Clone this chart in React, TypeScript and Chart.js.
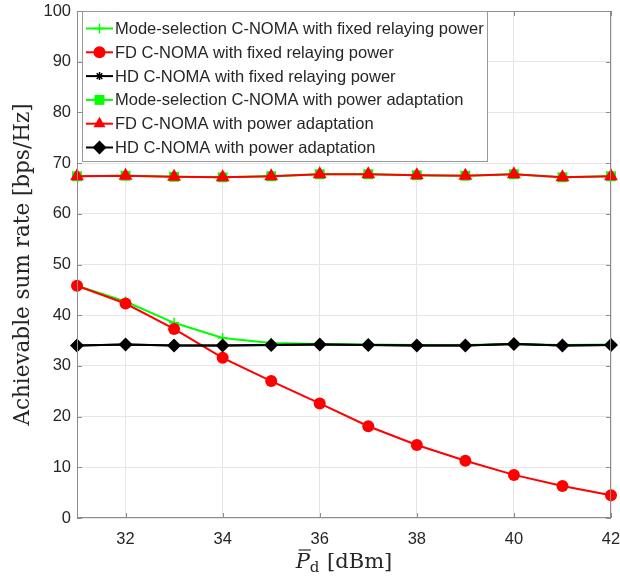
import React, { useEffect, useRef } from "react";
import { Chart, registerables } from "chart.js";

Chart.register(...registerables);

// ---- data ----
const xValues = [31, 32, 33, 34, 35, 36, 37, 38, 39, 40, 41, 42];
const msFixed = [45.8, 42.7, 38.5, 35.5, 34.5, 34.3, 34.2, 34.1, 34.1, 34.3, 34.1, 34.2];
const fdFixed = [45.8, 42.3, 37.3, 31.6, 27.0, 22.6, 18.1, 14.4, 11.3, 8.5, 6.3, 4.5];
const hdFixed = [34.0, 34.2, 34.0, 34.0, 34.1, 34.2, 34.1, 34.0, 34.0, 34.3, 34.0, 34.1];
const msAdapt = [67.4, 67.5, 67.3, 67.2, 67.4, 67.8, 67.8, 67.6, 67.5, 67.8, 67.2, 67.4];
const fdAdapt = [67.4, 67.5, 67.3, 67.2, 67.4, 67.8, 67.8, 67.6, 67.5, 67.8, 67.2, 67.4];
const hdAdapt = [34.0, 34.2, 34.0, 34.0, 34.1, 34.2, 34.1, 34.0, 34.0, 34.3, 34.0, 34.1];
const xTicks = [32, 34, 36, 38, 40, 42];
const yTicks = [0, 10, 20, 30, 40, 50, 60, 70, 80, 90, 100];
const seriesLabels = [
  "Mode-selection C-NOMA with fixed relaying power",
  "FD C-NOMA with fixed relaying power",
  "HD C-NOMA with fixed relaying power",
  "Mode-selection C-NOMA with power adaptation",
  "FD C-NOMA with power adaptation",
  "HD C-NOMA with power adaptation",
];
const yTitle = "Achievable sum rate [bps/Hz]";

const GREEN = "#00ff00";
const RED = "#ff0000";
const BLACK = "#000000";
const TEXT = "#262626";
const AXIS = "#8c8c8c";
const GRID = "#e6e6e6";

type Style = { color: string; shape: string; radius: number; lineW: number };
const styles: Style[] = [
  { color: GREEN, shape: "cross", radius: 5, lineW: 2 },
  { color: RED, shape: "circle", radius: 6, lineW: 2 },
  { color: BLACK, shape: "star", radius: 4, lineW: 2 },
  { color: GREEN, shape: "rect", radius: 7, lineW: 2 },
  { color: RED, shape: "triangle", radius: 8, lineW: 2 },
  { color: BLACK, shape: "rectRot", radius: 7, lineW: 2 },
];
const seriesData = [msFixed, fdFixed, hdFixed, msAdapt, fdAdapt, hdAdapt];

function drawMarker(ctx: CanvasRenderingContext2D, shape: string, x: number, y: number, r: number, color: string) {
  ctx.save();
  ctx.fillStyle = color;
  ctx.strokeStyle = color;
  ctx.lineWidth = 1.5;
  ctx.beginPath();
  if (shape === "circle") {
    ctx.arc(x, y, r, 0, Math.PI * 2);
    ctx.fill();
  } else if (shape === "cross") {
    ctx.moveTo(x - r, y); ctx.lineTo(x + r, y);
    ctx.moveTo(x, y - r); ctx.lineTo(x, y + r);
    ctx.stroke();
  } else if (shape === "star") {
    ctx.moveTo(x - r, y); ctx.lineTo(x + r, y);
    ctx.moveTo(x, y - r); ctx.lineTo(x, y + r);
    const d = r * Math.SQRT1_2;
    ctx.moveTo(x - d, y - d); ctx.lineTo(x + d, y + d);
    ctx.moveTo(x - d, y + d); ctx.lineTo(x + d, y - d);
    ctx.stroke();
  } else if (shape === "rect") {
    const s = r * Math.SQRT1_2;
    ctx.rect(x - s, y - s, 2 * s, 2 * s);
    ctx.fill();
  } else if (shape === "triangle") {
    ctx.moveTo(x, y - r);
    ctx.lineTo(x + r * Math.sin((2 * Math.PI) / 3), y - r * Math.cos((2 * Math.PI) / 3));
    ctx.lineTo(x + r * Math.sin((4 * Math.PI) / 3), y - r * Math.cos((4 * Math.PI) / 3));
    ctx.closePath();
    ctx.fill();
  } else if (shape === "rectRot") {
    ctx.moveTo(x, y - r); ctx.lineTo(x + r, y); ctx.lineTo(x, y + r); ctx.lineTo(x - r, y);
    ctx.closePath();
    ctx.fill();
  }
  ctx.restore();
}

const framePlugin = {
  id: "matlabFrame",
  afterDraw(chart: any) {
    const ctx: CanvasRenderingContext2D = chart.ctx;
    const { left, right, top, bottom } = chart.chartArea;
    const xs = chart.scales.x;
    const ys = chart.scales.y;
    ctx.save();
    // box
    ctx.strokeStyle = AXIS;
    ctx.lineWidth = 1;
    ctx.strokeRect(left + 0.5, top + 0.5, right - left - 1, bottom - top - 1);
    // inward ticks
    ctx.beginPath();
    const tl = 5;
    for (const v of yTicks) {
      const y = Math.round(ys.getPixelForValue(v)) + 0.5;
      ctx.moveTo(left, y); ctx.lineTo(left + tl, y);
      ctx.moveTo(right, y); ctx.lineTo(right - tl, y);
    }
    for (const v of xTicks) {
      const x = Math.round(xs.getPixelForValue(v)) + 0.5;
      ctx.moveTo(x, bottom); ctx.lineTo(x, bottom - tl);
      ctx.moveTo(x, top); ctx.lineTo(x, top + tl);
    }
    ctx.stroke();

    // legend
    const lx = 82, ly = top, lw = 405, lh = 150;
    ctx.fillStyle = "#ffffff";
    ctx.fillRect(lx, ly, lw, lh);
    ctx.strokeStyle = "#999999";
    ctx.strokeRect(lx + 0.5, ly + 0.5, lw, lh);
    ctx.font = '16.5px "Liberation Sans", Arial, sans-serif';
    ctx.textBaseline = "middle";
    ctx.textAlign = "left";
    for (let i = 0; i < seriesLabels.length; i++) {
      const cy = 28.5 + i * 23.8;
      const st = styles[i];
      ctx.strokeStyle = st.color;
      ctx.lineWidth = st.lineW;
      ctx.beginPath();
      ctx.moveTo(86, cy); ctx.lineTo(113, cy);
      ctx.stroke();
      drawMarker(ctx, st.shape, 99.5, cy, st.shape === "triangle" ? 7 : st.radius, st.color);
      ctx.fillStyle = TEXT;
      ctx.fillText(seriesLabels[i], 115, cy + 1);
    }

    // y title
    ctx.save();
    ctx.translate(23, (top + bottom) / 2);
    ctx.rotate(-Math.PI / 2);
    ctx.font = '21.5px "DejaVu Serif", serif';
    ctx.fillStyle = TEXT;
    ctx.textAlign = "center";
    ctx.textBaseline = "middle";
    ctx.fillText(yTitle, 0, 0);
    ctx.restore();

    // x title: P̄d [dBm]
    const cx = (left + right) / 2;
    const base = 568;
    ctx.fillStyle = TEXT;
    ctx.textBaseline = "alphabetic";
    ctx.textAlign = "left";
    const fP = 'italic 21px "DejaVu Serif", serif';
    const fSub = '15px "DejaVu Serif", serif';
    const fRest = '21px "DejaVu Serif", serif';
    ctx.font = fP; const wP = ctx.measureText("P").width;
    ctx.font = fSub; const wD = ctx.measureText("d").width;
    ctx.font = fRest; const wR = ctx.measureText(" [dBm]").width;
    const total = wP + wD + 1 + wR;
    let x0 = cx - total / 2;
    ctx.font = fP; ctx.fillText("P", x0, base);
    ctx.strokeStyle = TEXT; ctx.lineWidth = 1.2;
    ctx.beginPath(); ctx.moveTo(x0 + 3, base - 18); ctx.lineTo(x0 + wP + 1, base - 18); ctx.stroke();
    x0 += wP;
    ctx.font = fSub; ctx.fillText("d", x0, base + 4);
    x0 += wD + 1;
    ctx.font = fRest; ctx.fillText(" [dBm]", x0, base);
    ctx.restore();
  },
};

export default function App() {
  const ref = useRef<HTMLCanvasElement | null>(null);
  useEffect(() => {
    document.body.style.margin = "0";
    const canvas = ref.current!;
    const n = seriesLabels.length;
    const chart = new Chart(canvas, {
      type: "line",
      data: {
        datasets: seriesData.map((vals, i) => ({
          label: seriesLabels[i],
          data: xValues.map((x, j) => ({ x, y: vals[j] })),
          borderColor: styles[i].color,
          backgroundColor: styles[i].color,
          borderWidth: styles[i].lineW,
          pointStyle: styles[i].shape as any,
          pointRadius: styles[i].radius,
          pointBorderWidth: styles[i].shape === "cross" || styles[i].shape === "star" ? 1.5 : 0,
          pointBorderColor: styles[i].color,
          pointBackgroundColor: styles[i].color,
          tension: 0,
          clip: false as any,
          order: n - i,
        })),
      },
      options: {
        responsive: false,
        animation: false,
        events: [],
        layout: { padding: { top: 11, right: 9, left: 0, bottom: 0 } },
        plugins: { legend: { display: false }, tooltip: { enabled: false } },
        scales: {
          x: {
            type: "linear",
            min: 31,
            max: 42,
            afterBuildTicks: (s: any) => { s.ticks = xTicks.map((v) => ({ value: v })); },
            afterFit: (s: any) => { s.height = 59; s.paddingLeft = 0; s.paddingRight = 0; },
            grid: { color: GRID, drawTicks: false },
            border: { display: false },
            ticks: {
              color: TEXT,
              padding: 12,
              font: { family: '"Liberation Sans", Arial, sans-serif', size: 16.5 },
              maxRotation: 0,
            },
          },
          y: {
            type: "linear",
            min: 0,
            max: 100,
            afterBuildTicks: (s: any) => { s.ticks = yTicks.map((v) => ({ value: v })); },
            afterFit: (s: any) => { s.width = 77; s.paddingTop = 0; s.paddingBottom = 0; },
            grid: { color: GRID, drawTicks: false },
            border: { display: false },
            ticks: {
              color: TEXT,
              padding: 6,
              font: { family: '"Liberation Sans", Arial, sans-serif', size: 16.5 },
            },
          },
        },
      },
      plugins: [framePlugin],
    });
    return () => chart.destroy();
  }, []);
  return <canvas ref={ref} width={620} height={577} style={{ display: "block" }} />;
}
